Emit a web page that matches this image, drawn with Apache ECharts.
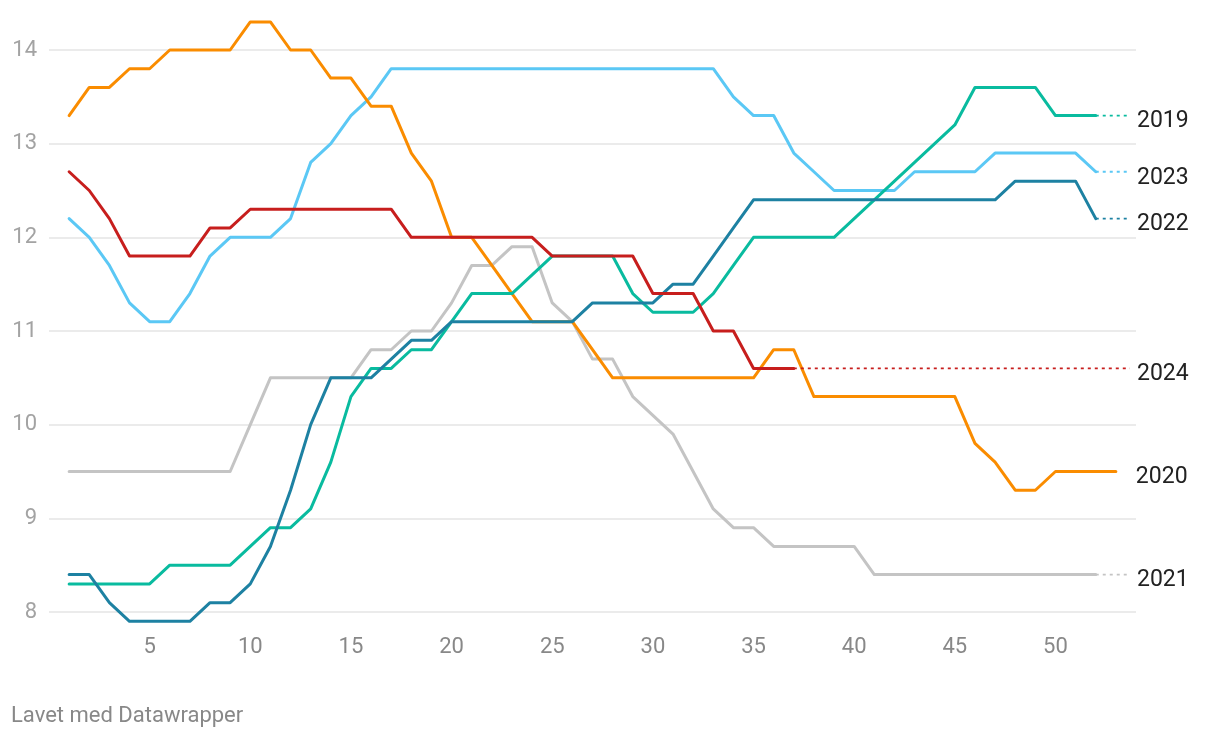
<!DOCTYPE html>
<html>
<head>
<meta charset="utf-8">
<script src="https://cdn.jsdelivr.net/npm/echarts@6/dist/echarts.min.js"></script>
<style>
html,body{margin:0;padding:0;background:#fff;}
#chart{width:1220px;height:738px;}
</style>
</head>
<body>
<div id="chart"></div>
<script>
// Week numbers are the array index + 1
const years = ['2019','2020','2021','2022','2023','2024'];

const v2019 = [8.3,8.3,8.3,8.3,8.3,8.5,8.5,8.5,8.5,8.7,
  8.9,8.9,9.1,9.6,10.3,10.6,10.6,10.8,10.8,11.1,
  11.4,11.4,11.4,11.6,11.8,11.8,11.8,11.8,11.4,11.2,
  11.2,11.2,11.4,11.7,12.0,12.0,12.0,12.0,12.0,12.2,
  12.4,12.6,12.8,13.0,13.2,13.6,13.6,13.6,13.6,13.3,
  13.3,13.3];

const v2020 = [13.3,13.6,13.6,13.8,13.8,14.0,14.0,14.0,14.0,14.3,
  14.3,14.0,14.0,13.7,13.7,13.4,13.4,12.9,12.6,12.0,
  12.0,11.7,11.4,11.1,11.1,11.1,10.8,10.5,10.5,10.5,
  10.5,10.5,10.5,10.5,10.5,10.8,10.8,10.3,10.3,10.3,
  10.3,10.3,10.3,10.3,10.3,9.8,9.6,9.3,9.3,9.5,
  9.5,9.5,9.5];

const v2021 = [9.5,9.5,9.5,9.5,9.5,9.5,9.5,9.5,9.5,10.0,
  10.5,10.5,10.5,10.5,10.5,10.8,10.8,11.0,11.0,11.3,
  11.7,11.7,11.9,11.9,11.3,11.1,10.7,10.7,10.3,10.1,
  9.9,9.5,9.1,8.9,8.9,8.7,8.7,8.7,8.7,8.7,
  8.4,8.4,8.4,8.4,8.4,8.4,8.4,8.4,8.4,8.4,
  8.4,8.4];

const v2022 = [8.4,8.4,8.1,7.9,7.9,7.9,7.9,8.1,8.1,8.3,
  8.7,9.3,10.0,10.5,10.5,10.5,10.7,10.9,10.9,11.1,
  11.1,11.1,11.1,11.1,11.1,11.1,11.3,11.3,11.3,11.3,
  11.5,11.5,11.8,12.1,12.4,12.4,12.4,12.4,12.4,12.4,
  12.4,12.4,12.4,12.4,12.4,12.4,12.4,12.6,12.6,12.6,
  12.6,12.2];

const v2023 = [12.2,12.0,11.7,11.3,11.1,11.1,11.4,11.8,12.0,12.0,
  12.0,12.2,12.8,13.0,13.3,13.5,13.8,13.8,13.8,13.8,
  13.8,13.8,13.8,13.8,13.8,13.8,13.8,13.8,13.8,13.8,
  13.8,13.8,13.8,13.5,13.3,13.3,12.9,12.7,12.5,12.5,
  12.5,12.5,12.7,12.7,12.7,12.7,12.9,12.9,12.9,12.9,
  12.9,12.7];

const v2024 = [12.7,12.5,12.2,11.8,11.8,11.8,11.8,12.1,12.1,12.3,
  12.3,12.3,12.3,12.3,12.3,12.3,12.3,12.0,12.0,12.0,
  12.0,12.0,12.0,12.0,11.8,11.8,11.8,11.8,11.8,11.4,
  11.4,11.4,11.0,11.0,10.6,10.6,10.6];

const xTickLabels = [5,10,15,20,25,30,35,40,45,50];
const yTickLabels = [8,9,10,11,12,13,14];

const colors = {
  '2019':'#09bb9f',
  '2020':'#fa8c00',
  '2021':'#c4c4c4',
  '2022':'#1d81a2',
  '2023':'#5bc8f5',
  '2024':'#c71e1d'
};
const values = {'2019':v2019,'2020':v2020,'2021':v2021,'2022':v2022,'2023':v2023,'2024':v2024};
// draw order: bottom to top
const order = ['2021','2023','2020','2019','2022','2024'];
const dashEnd = 53.7;

const FONT = 'Roboto';
const series = [];
order.forEach(y => {
  const vals = values[y];
  const data = vals.map((v,i) => [i+1, v]);
  const lastW = vals.length, lastV = vals[vals.length-1];
  const hasDash = lastW < 53;
  series.push({
    name: y, type: 'line', data: data, symbol: 'none', clip: false,
    lineStyle: {color: colors[y], width: 3, cap: 'round', join: 'round'},
    itemStyle: {color: colors[y]},
    silent: true, animation: false,
    endLabel: hasDash ? {show:false} : {
      show: true, formatter: '{a}', color: '#222', fontSize: 23, fontFamily: FONT,
      distance: 20, offset: [0, 6]
    }
  });
  if (hasDash) {
    series.push({
      name: y, type: 'line', data: [[lastW, lastV],[dashEnd, lastV]], symbol: 'none', clip: false,
      lineStyle: {color: colors[y], width: 1.8, type: [3,4]},
      silent: true, animation: false,
      endLabel: {
        show: true, formatter: '{a}', color: '#222', fontSize: 23, fontFamily: FONT,
        distance: 7, offset: [0, 6]
      }
    });
  }
});

const chart = echarts.init(document.getElementById('chart'), null, {renderer:'canvas'});
chart.setOption({
  backgroundColor: '#fff',
  animation: false,
  grid: {left: 49, right: 84, top: 50, bottom: 126, containLabel: false},
  xAxis: {
    type: 'value', min: 0, max: 54, interval: 5,
    axisLine: {show:false}, axisTick: {show:false}, splitLine: {show:false},
    axisLabel: {
      color: '#888', fontSize: 22, fontFamily: FONT, margin: 24,
      formatter: v => xTickLabels.indexOf(v) >= 0 ? String(v) : ''
    }
  },
  yAxis: {
    type: 'value', min: 8, max: 14, interval: 1,
    axisLine: {show:false}, axisTick: {show:false},
    splitLine: {lineStyle: {color: '#e4e4e4', width: 1.5}},
    axisLabel: {
      color: '#a3a3a3', fontSize: 22, fontFamily: FONT, margin: 12,
      formatter: v => yTickLabels.indexOf(v) >= 0 ? String(v) : ''
    }
  },
  graphic: [{
    type: 'text', left: 11, top: 705,
    style: {text: 'Lavet med Datawrapper', fill: '#888', fontSize: 22, fontFamily: FONT}
  }],
  series: series
});
</script>
</body>
</html>
